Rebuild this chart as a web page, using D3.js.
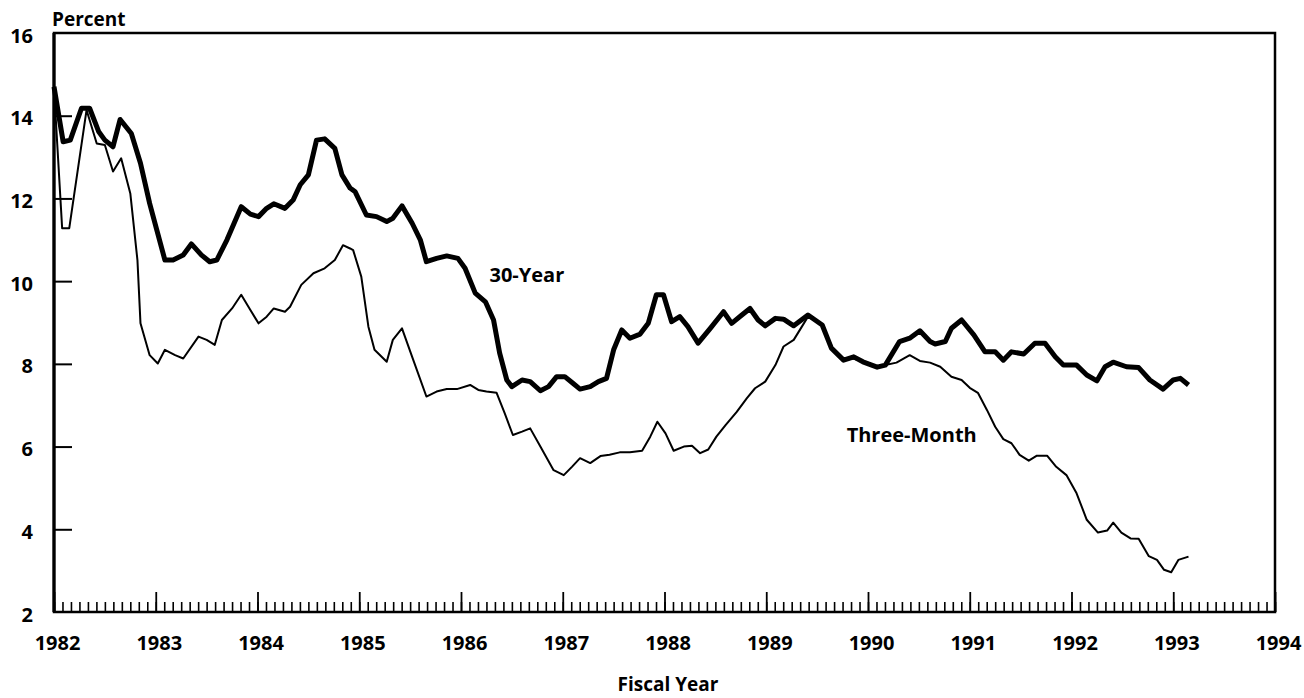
<!DOCTYPE html>
<html>
<head>
<meta charset="utf-8">
<script src="https://cdn.jsdelivr.net/npm/d3@7"></script>
<style>
  body { margin: 0; background: #fff; }
  svg text { font-family: "Open Sans", "Liberation Sans", sans-serif; font-weight: bold; fill: #000; }
</style>
</head>
<body>
<div id="chart"></div>
<script>
// fiscal year (decimal) and percent
const thirtyYearDates = [1982.00, 1982.09, 1982.16, 1982.27, 1982.35, 1982.44, 1982.50, 1982.58, 1982.65, 1982.76, 1982.85, 1982.94,
  1983.01, 1983.09, 1983.17, 1983.27, 1983.35, 1983.45, 1983.53, 1983.60, 1983.70, 1983.84, 1983.93,
  1984.01, 1984.09, 1984.16, 1984.27, 1984.35, 1984.42, 1984.50, 1984.58, 1984.66, 1984.76, 1984.83, 1984.91, 1984.96,
  1985.07, 1985.17, 1985.27, 1985.33, 1985.42, 1985.52, 1985.60, 1985.66, 1985.76, 1985.86, 1985.97,
  1986.04, 1986.14, 1986.24, 1986.32, 1986.38, 1986.45, 1986.50, 1986.60, 1986.68, 1986.78, 1986.86, 1986.94,
  1987.02, 1987.10, 1987.17, 1987.27, 1987.35, 1987.43, 1987.50, 1987.58, 1987.66, 1987.76, 1987.84, 1987.92, 1987.99,
  1988.07, 1988.15, 1988.23, 1988.33, 1988.45, 1988.58, 1988.66, 1988.76, 1988.84, 1988.92, 1988.99,
  1989.09, 1989.17, 1989.27, 1989.41, 1989.55, 1989.64, 1989.76, 1989.86, 1989.95,
  1990.09, 1990.17, 1990.31, 1990.41, 1990.51, 1990.61, 1990.66, 1990.76, 1990.82, 1990.92,
  1991.04, 1991.15, 1991.25, 1991.33, 1991.41, 1991.53, 1991.64, 1991.74, 1991.84, 1991.92,
  1992.05, 1992.15, 1992.25, 1992.33, 1992.41, 1992.54, 1992.66, 1992.77, 1992.90,
  1993.00, 1993.07, 1993.15];
const thirtyYearValues = [14.7, 13.37, 13.41, 14.18, 14.18, 13.61, 13.41, 13.25, 13.91, 13.57, 12.85, 11.88,
  11.24, 10.51, 10.51, 10.63, 10.9, 10.63, 10.47, 10.51, 11.0, 11.8, 11.62,
  11.56, 11.76, 11.87, 11.76, 11.96, 12.33, 12.57, 13.41, 13.44, 13.21, 12.57, 12.25, 12.16,
  11.6, 11.56, 11.44, 11.52, 11.82, 11.4, 11.0, 10.47, 10.55, 10.61, 10.55,
  10.31, 9.71, 9.5, 9.06, 8.26, 7.61, 7.45, 7.61, 7.57, 7.35, 7.45, 7.69,
  7.69, 7.53, 7.39, 7.45, 7.57, 7.65, 8.34, 8.82, 8.62, 8.72, 8.98, 9.67, 9.67,
  9.02, 9.14, 8.9, 8.5, 8.86, 9.26, 8.98, 9.18, 9.34, 9.06, 8.92,
  9.1, 9.08, 8.92, 9.18, 8.94, 8.38, 8.09, 8.17, 8.05,
  7.92, 7.97, 8.54, 8.62, 8.8, 8.54, 8.48, 8.54, 8.86, 9.06,
  8.7, 8.29, 8.29, 8.09, 8.29, 8.24, 8.5, 8.5, 8.17, 7.97,
  7.97, 7.73, 7.59, 7.93, 8.04, 7.93, 7.91, 7.61, 7.39,
  7.61, 7.65, 7.49];

const threeMonthDates = [1982.00, 1982.08, 1982.15, 1982.32, 1982.42, 1982.50, 1982.58, 1982.66, 1982.75, 1982.82, 1982.85, 1982.94,
  1983.02, 1983.09, 1983.19, 1983.27, 1983.42, 1983.50, 1983.58, 1983.65, 1983.75, 1983.84, 1983.93,
  1984.01, 1984.09, 1984.16, 1984.27, 1984.32, 1984.43, 1984.55, 1984.66, 1984.76, 1984.84, 1984.91, 1984.94,
  1985.02, 1985.09, 1985.15, 1985.27, 1985.33, 1985.42, 1985.52, 1985.66, 1985.76, 1985.86, 1985.96,
  1986.09, 1986.17, 1986.25, 1986.35, 1986.43, 1986.51, 1986.60, 1986.68, 1986.78, 1986.91,
  1987.01, 1987.09, 1987.17, 1987.27, 1987.37, 1987.46, 1987.56, 1987.66, 1987.78, 1987.86, 1987.93,
  1988.01, 1988.09, 1988.19, 1988.27, 1988.35, 1988.43, 1988.51, 1988.60, 1988.71, 1988.81, 1988.89, 1988.99,
  1989.09, 1989.17, 1989.27, 1989.35, 1989.41, 1989.55, 1989.66, 1989.76, 1989.86, 1989.95,
  1990.09, 1990.17, 1990.28, 1990.41, 1990.51, 1990.61, 1990.71, 1990.82, 1990.92,
  1991.00, 1991.08, 1991.17, 1991.25, 1991.33, 1991.41, 1991.49, 1991.58, 1991.66, 1991.76, 1991.85, 1991.95,
  1992.05, 1992.15, 1992.26, 1992.35, 1992.41, 1992.49, 1992.58, 1992.66, 1992.76, 1992.84, 1992.91, 1992.98,
  1993.05, 1993.15];
const threeMonthValues = [14.66, 11.28, 11.28, 14.14, 13.33, 13.29, 12.65, 12.97, 12.12, 10.51, 8.98, 8.21,
  8.01, 8.34, 8.21, 8.13, 8.66, 8.58, 8.46, 9.06, 9.34, 9.67, 9.3,
  8.98, 9.14, 9.34, 9.26, 9.38, 9.91, 10.19, 10.31, 10.51, 10.87, 10.79, 10.75,
  10.11, 8.9, 8.34, 8.05, 8.58, 8.86, 8.17, 7.21, 7.33, 7.39, 7.39,
  7.49, 7.37, 7.33, 7.3, 6.8, 6.28, 6.36, 6.44, 6.0, 5.43,
  5.31, 5.51, 5.72, 5.6, 5.77, 5.8, 5.86, 5.86, 5.9, 6.24, 6.6,
  6.32, 5.9, 6.0, 6.02, 5.84, 5.93, 6.24, 6.52, 6.84, 7.17, 7.41, 7.57,
  7.97, 8.42, 8.58, 8.9, 9.14, 8.94, 8.34, 8.09, 8.13, 8.05,
  7.92, 7.97, 8.03, 8.21, 8.07, 8.03, 7.93, 7.69, 7.61,
  7.42, 7.3, 6.88, 6.48, 6.18, 6.08, 5.8, 5.66, 5.78, 5.78, 5.51, 5.31,
  4.87, 4.23, 3.92, 3.97, 4.16, 3.92, 3.78, 3.77, 3.35, 3.26, 3.02, 2.96,
  3.26, 3.34];

const yearTicks = d3.range(1982, 1995);
const percentTicks = [2, 4, 6, 8, 10, 12, 14, 16];
const seriesLabels = [
  { text: "30-Year", year: 1986.28, value: 9.98 },
  { text: "Three-Month", year: 1989.79, value: 6.1 }
];

const width = 1304, height = 698;
const plotLeft = 54, plotRight = 1275, plotTop = 33, plotBottom = 612;

const svg = d3.select("#chart").append("svg")
  .attr("width", width)
  .attr("height", height);

const x = d3.scaleLinear().domain([1982, 1994]).range([plotLeft, plotRight]);
const y = d3.scaleLinear().domain([2, 16]).range([plotBottom, plotTop]);

// monthly minor ticks pointing up into the plot
const monthTicks = d3.range(0, 12 * 12 + 1).map(m => 1982 + m / 12);
svg.append("g")
  .attr("transform", `translate(0,${plotBottom})`)
  .call(d3.axisBottom(x).tickValues(monthTicks).tickSize(-10).tickFormat(""))
  .call(g => g.select(".domain").remove())
  .call(g => g.selectAll("line").attr("stroke-width", 1.6));

// year ticks with labels
svg.append("g")
  .attr("transform", `translate(0,${plotBottom})`)
  .call(d3.axisBottom(x).tickValues(yearTicks).tickSize(-20).tickPadding(24).tickFormat(d3.format("d")))
  .call(g => g.select(".domain").remove())
  .call(g => g.selectAll("line").attr("stroke-width", 1.8))
  .call(g => g.selectAll("text").attr("font-size", 20).attr("dx", 3));

// percent axis, ticks pointing right
svg.append("g")
  .attr("transform", `translate(${plotLeft},0)`)
  .call(d3.axisLeft(y).tickValues(percentTicks).tickSize(-18).tickPadding(21))
  .call(g => g.select(".domain").remove())
  .call(g => g.selectAll(".tick").filter(d => d === 2 || d === 16).select("line").remove())
  .call(g => g.selectAll("line").attr("stroke-width", 2))
  .call(g => g.selectAll("text").attr("font-size", 20).attr("dy", "0.45em"));

// frame
svg.append("rect")
  .attr("x", plotLeft).attr("y", plotTop)
  .attr("width", plotRight - plotLeft).attr("height", plotBottom - plotTop)
  .attr("fill", "none").attr("stroke", "#000").attr("stroke-width", 2.5);
svg.append("line")
  .attr("x1", plotLeft).attr("x2", plotLeft).attr("y1", plotTop).attr("y2", plotBottom)
  .attr("stroke", "#000").attr("stroke-width", 3.2);

const line = d3.line()
  .x(d => x(d[0]))
  .y(d => y(d[1]));

svg.append("path")
  .datum(d3.zip(threeMonthDates, threeMonthValues))
  .attr("fill", "none").attr("stroke", "#000")
  .attr("stroke-width", 2).attr("stroke-linejoin", "round")
  .attr("d", line);

svg.append("path")
  .datum(d3.zip(thirtyYearDates, thirtyYearValues))
  .attr("fill", "none").attr("stroke", "#000")
  .attr("stroke-width", 5).attr("stroke-linejoin", "round")
  .attr("d", line);

svg.selectAll(".series-label")
  .data(seriesLabels)
  .enter().append("text")
  .attr("class", "series-label")
  .attr("x", d => x(d.year))
  .attr("y", d => y(d.value))
  .attr("font-size", 20)
  .text(d => d.text);

svg.append("text")
  .attr("x", 52).attr("y", 26)
  .attr("font-size", 19)
  .text("Percent");

svg.append("text")
  .attr("x", 668).attr("y", 691)
  .attr("text-anchor", "middle")
  .attr("font-size", 19)
  .text("Fiscal Year");
</script>
</body>
</html>
